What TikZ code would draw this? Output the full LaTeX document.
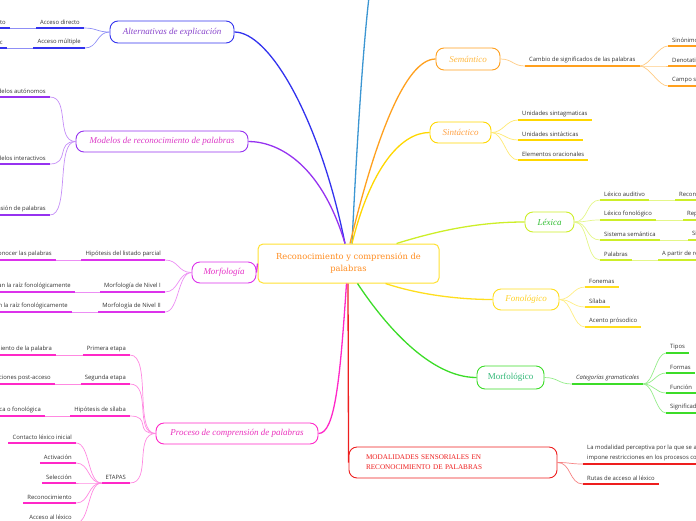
\documentclass[tikz,border=0pt]{standalone}
\usepackage{fontspec}
\setmainfont{Liberation Serif}
\newfontfamily\leaffont{Open Sans}
\newfontfamily\ctrfont{DejaVu Serif}
\definecolor{cBlue}{RGB}{51,51,238}
\definecolor{cAltTxt}{RGB}{136,68,204}
\definecolor{cPurple}{RGB}{150,50,240}
\definecolor{cModTxt}{RGB}{220,60,200}
\definecolor{cMorfa}{RGB}{220,50,235}
\definecolor{cMorfaTxt}{RGB}{230,50,200}
\definecolor{cProc}{RGB}{255,40,200}
\definecolor{cProcTxt}{RGB}{235,50,190}
\definecolor{cRed}{RGB}{238,30,30}
\definecolor{cGreen}{RGB}{60,220,40}
\definecolor{cGreenTxt}{RGB}{50,185,120}
\definecolor{cFon}{RGB}{255,222,30}
\definecolor{cFonTxt}{RGB}{255,210,40}
\definecolor{cLex}{RGB}{205,238,40}
\definecolor{cLexTxt}{RGB}{50,190,50}
\definecolor{cSint}{RGB}{255,215,0}
\definecolor{cSintTxt}{RGB}{255,160,64}
\definecolor{cSem}{RGB}{255,160,30}
\definecolor{cSemTxt}{RGB}{255,185,64}
\definecolor{cCtr}{RGB}{255,225,50}
\definecolor{cCtrTxt}{RGB}{255,140,30}
\definecolor{cSky}{RGB}{60,150,210}
\definecolor{cLeafTxt}{RGB}{51,51,51}
\tikzset{
  title/.style={draw=#1, line width=0.9pt, rounded corners=8pt, fill=white, inner sep=0pt,
    font=\fontsize{9}{10}\selectfont\itshape},
  leaf/.style={font=\leaffont\fontsize{5.9}{9.5}\selectfont, text=cLeafTxt, inner xsep=4pt, inner ysep=3pt},
  lL/.style={leaf, anchor=south east},
  lR/.style={leaf, anchor=south west},
  ul/.style={draw=#1, line width=1.5pt},
  thinc/.style={draw=#1!55, line width=0.7pt},
  mainc/.style={draw=#1, line width=1.3pt},
}
\begin{document}
\begin{tikzpicture}[x=1pt,y=-1pt]
\useasboundingbox (0,0) rectangle (696,520);
\clip (0,0) rectangle (696,520);

% ---------- title nodes ----------
\node[draw=cCtr, line width=1pt, rounded corners=5pt, fill=white, minimum width=181pt, minimum height=39pt,
  align=center, text=cCtrTxt, font=\ctrfont\fontsize{8.3}{12}\selectfont, inner sep=0pt]
  (ctr) at (348.5,263.5) {Reconocimiento y comprensión de\\palabras};

\node[title=cBlue, minimum width=124pt, minimum height=22pt, text=cAltTxt] (alt) at (172,32) {Alternativas de explicación};
\node[title=cPurple, minimum width=172pt, minimum height=21pt, text=cModTxt] (mod) at (162,141.5) {Modelos de reconocimiento de palabras};
\node[title=cMorfa, minimum width=64pt, minimum height=21pt, text=cMorfaTxt] (morfa) at (224,272.5) {Morfología};
\node[title=cProc, minimum width=162pt, minimum height=21pt, text=cProcTxt] (proc) at (237,433.5) {Proceso de comprensión de palabras};
\node[title=cSem, minimum width=64pt, minimum height=22pt, text=cSemTxt] (sem) at (468,59) {Semántico};
\node[title=cSint, minimum width=61pt, minimum height=21pt, text=cSintTxt] (sint) at (460.5,132.5) {Sintáctico};
\node[title=cLex, minimum width=49pt, minimum height=20pt, text=cLexTxt] (lex) at (549.5,222) {Léxica};
\node[title=cFon, minimum width=66pt, minimum height=21pt, text=cFonTxt] (fon) at (526,299.5) {Fonológico};
\node[title=cGreen, minimum width=67pt, minimum height=23pt, text=cGreenTxt, font=\fontsize{9}{10}\selectfont] (morfo) at (510.5,377.5) {Morfológico};
\node[title=cRed, minimum width=208pt, minimum height=31pt, text=cRed, text width=174pt, align=left,
  font=\fontsize{7.2}{10}\selectfont] (moda) at (453,462.5) {MODALIDADES SENSORIALES EN\\RECONOCIMIENTO DE PALABRAS};

\coordinate (skytop) at (369,-3);

% ---------- main connectors ----------
\draw[mainc=cSky] ([xshift=3.5pt]ctr.north) .. controls (358,120) and (364,40) .. (skytop);
\draw[mainc=cBlue] ([xshift=-3.5pt]ctr.north) .. controls (320,120) and (270,32) .. (alt.east);
\draw[mainc=cPurple] ([xshift=-3.5pt]ctr.north) .. controls (320,160) and (275,141.5) .. (mod.east);
\draw[mainc=cSem] ([xshift=1.5pt]ctr.north) .. controls (375,140) and (405,59) .. (sem.west);
\draw[mainc=cSint] ([xshift=3.5pt]ctr.north) .. controls (370,170) and (400,132.5) .. (sint.west);
\draw[mainc=cLex] ([xshift=48pt]ctr.north) .. controls (440,230) and (480,222) .. (lex.west);
\draw[mainc=cFon] ([xshift=37pt]ctr.south) .. controls (420,295) and (460,299.5) .. (fon.west);
\draw[mainc=cGreen] ([xshift=9pt]ctr.south) .. controls (385,325) and (430,377.5) .. (morfo.west);
\draw[mainc=cRed] ([xshift=-0.5pt]ctr.south) -- (moda.west);
\draw[mainc=cProc] ([xshift=-2pt]ctr.south) .. controls (340,380) and (335,433.5) .. (proc.east);
\draw[mainc=cMorfa] (ctr.west) -- (morfa.east);

% ---------- left leaves ----------
% Alternativas
\node[lL] (a1) at (84,28) {Acceso directo};
\node[lL] (a1a) at (10,28) {Directo};
\node[lL] (a2) at (85,48) {Acceso múltiple};
\node[lL] (a2a) at (7,48) {Léxic};
\foreach \n in {a1,a2} \draw[thinc=cBlue] (alt.west) .. controls +(-13,0) and +(13,0) .. (\n.south east);
\draw[thinc=cBlue] (a1.south west) -- (a1a.south east);
\draw[thinc=cBlue] (a2.south west) -- (a2a.south east);
\foreach \n in {a1,a1a,a2,a2a} \draw[ul=cBlue] (\n.south west) -- (\n.south east);

% Modelos
\node[lL] (m1) at (50,97) {Modelos autónomos};
\node[lL] (m2) at (50,164) {Modelos interactivos};
\node[lL] (m3) at (50,215) {Modelos de comprensión de palabras};
\foreach \n in {m1,m2,m3} \draw[thinc=cPurple] (mod.west) .. controls +(-20,0) and +(20,0) .. (\n.south east);
\foreach \n in {m1,m2,m3} \draw[ul=cPurple] (\n.south west) -- (\n.south east);

% Morfologia
\node[lL] (f1) at (165,260) {Hipótesis del listado parcial};
\node[lL] (f1a) at (56,260) {Forma de reconocer las palabras};
\node[lL] (f2) at (165,292) {Morfología de Nivel I};
\node[lL] (f2a) at (75,292) {Afijos que cambian la raíz fonológicamente};
\node[lL] (f3) at (165,312) {Morfología de Nivel II};
\node[lL] (f3a) at (72,312) {Afijos que no cambian la raíz fonológicamente};
\foreach \n in {f1,f2,f3} \draw[thinc=cMorfa] (morfa.west) .. controls +(-14,0) and +(14,0) .. (\n.south east);
\draw[thinc=cMorfa] (f1.south west) -- (f1a.south east);
\draw[thinc=cMorfa] (f2.south west) -- (f2a.south east);
\draw[thinc=cMorfa] (f3.south west) -- (f3a.south east);
\foreach \n in {f1,f1a,f2,f2a,f3,f3a} \draw[ul=cMorfa] (\n.south west) -- (\n.south east);

% Proceso
\node[lL] (p1) at (130,355) {Primera etapa};
\node[lL] (p1a) at (56,355) {Reconocimiento de la palabra};
\node[lL] (p2) at (130,384) {Segunda etapa};
\node[lL] (p2a) at (55,384) {Operaciones post-acceso};
\node[lL] (p3) at (130,416) {Hipótesis de sílaba};
\node[lL] (p3a) at (45,416) {Ruta ortográfica o fonológica};
\node[lL] (p4) at (130,483) {ETAPAS};
\node[lL] (e1) at (76,443) {Contacto léxico inicial};
\node[lL] (e2) at (76,463) {Activación};
\node[lL] (e3) at (76,483) {Selección};
\node[lL] (e4) at (76,503) {Reconocimiento};
\node[lL] (e5) at (76,523) {Acceso al léxico};
\foreach \n in {p1,p2,p3,p4} \draw[thinc=cProc] (proc.west) .. controls +(-22,0) and +(22,0) .. (\n.south east);
\draw[thinc=cProc] (p1.south west) -- (p1a.south east);
\draw[thinc=cProc] (p2.south west) -- (p2a.south east);
\draw[thinc=cProc] (p3.south west) -- (p3a.south east);
\foreach \n in {e1,e2,e3,e4,e5} \draw[thinc=cProc] (p4.south west) .. controls +(-14,0) and +(14,0) .. (\n.south east);
\foreach \n in {p1,p1a,p2,p2a,p3,p3a,p4,e1,e2,e3,e4,e5} \draw[ul=cProc] (\n.south west) -- (\n.south east);

% ---------- right leaves ----------
% Semantico
\node[lR] (s1) at (525,66) {Cambio de significados de las palabras};
\node[lR] (s1a) at (668,46) {Sinónimos};
\node[lR] (s1b) at (668,66) {Denotativo};
\node[lR] (s1c) at (668,86) {Campo semántico};
\draw[thinc=cSem] (sem.east) .. controls +(12,0) and +(-12,0) .. (s1.south west);
\foreach \n in {s1a,s1b,s1c} \draw[thinc=cSem] (s1.south east) .. controls +(10,0) and +(-10,0) .. (\n.south west);
\foreach \n in {s1,s1a,s1b,s1c} \draw[ul=cSem] (\n.south west) -- (\n.south east);

% Sintactico
\node[lR] (t1) at (518,120) {Unidades sintagmaticas};
\node[lR] (t2) at (518,140) {Unidades sintácticas};
\node[lR] (t3) at (518,160) {Elementos oracionales};
\foreach \n in {t1,t2,t3} \draw[thinc=cSint] (sint.east) .. controls +(12,0) and +(-12,0) .. (\n.south west);
\foreach \n in {t1,t2,t3} \draw[ul=cSint] (\n.south west) -- (\n.south east);

% Lexica
\node[lR] (x1) at (600,200) {Léxico auditivo};
\node[lR] (x1a) at (675,200) {Reconocimiento auditivo};
\node[lR] (x2) at (600,220) {Léxico fonológico};
\node[lR] (x2a) at (683,220) {Representación fonológica};
\node[lR] (x3) at (600,240) {Sistema semántica};
\node[lR] (x3a) at (688,240) {Significado};
\node[lR] (x4) at (600,260) {Palabras};
\node[lR] (x4a) at (658,260) {A partir de reglas};
\foreach \n in {x1,x2,x3,x4} \draw[thinc=cLex] (lex.east) .. controls +(14,0) and +(-14,0) .. (\n.south west);
\draw[thinc=cLex] (x1.south east) -- (x1a.south west);
\draw[thinc=cLex] (x2.south east) -- (x2a.south west);
\draw[thinc=cLex] (x3.south east) -- (x3a.south west);
\draw[thinc=cLex] (x4.south east) -- (x4a.south west);
\foreach \n in {x1,x1a,x2,x2a,x3,x3a,x4,x4a} \draw[ul=cLex] (\n.south west) -- (\n.south east);

% Fonologico
\node[lR] (o1) at (585,287) {Fonemas};
\node[lR] (o2) at (585,307) {Sílaba};
\node[lR] (o3) at (585,327) {Acento prósodico};
\foreach \n in {o1,o2,o3} \draw[thinc=cFon] (fon.east) .. controls +(12,0) and +(-12,0) .. (\n.south west);
\foreach \n in {o1,o2,o3} \draw[ul=cFon] (\n.south west) -- (\n.south east);

% Morfologico
\node[lR, font=\leaffont\fontsize{5.9}{7}\selectfont\itshape] (g1) at (572,384) {Categorías gramaticales};
\node[lR] (g1a) at (666,353) {Tipos};
\node[lR] (g1b) at (666,373) {Formas};
\node[lR] (g1c) at (666,393) {Función};
\node[lR] (g1d) at (666,413) {Significado};
\draw[thinc=cGreen] (morfo.east) .. controls +(14,0) and +(-14,0) .. (g1.south west);
\foreach \n in {g1a,g1b,g1c,g1d} \draw[thinc=cGreen] (g1.south east) .. controls +(10,0) and +(-10,0) .. (\n.south west);
\foreach \n in {g1,g1a,g1b,g1c,g1d} \draw[ul=cGreen] (\n.south west) -- (\n.south east);

% Modalidades
\node[lR, align=left] (r1) at (583,464) {La modalidad perceptiva por la que se accede\\impone restricciones en los procesos cognitivos};
\node[lR] (r2) at (583,484) {Rutas de acceso al léxico};
\foreach \n in {r1,r2} \draw[thinc=cRed] (moda.east) .. controls +(14,0) and +(-14,0) .. (\n.south west);
\foreach \n in {r1,r2} \draw[ul=cRed] (\n.south west) -- (\n.south east);
\end{tikzpicture}
\end{document}
